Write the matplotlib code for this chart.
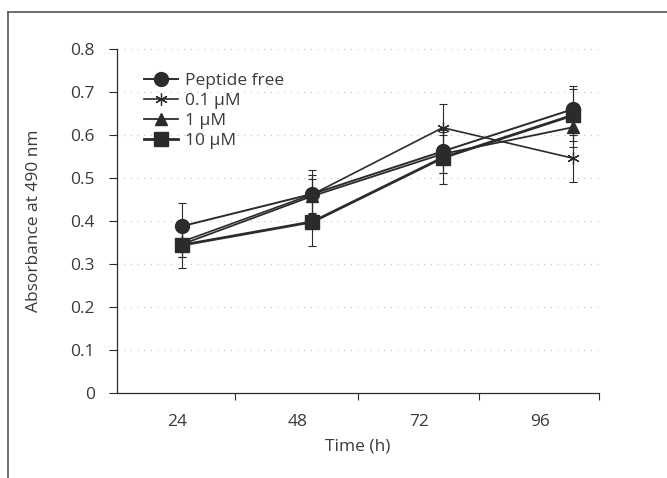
import matplotlib
matplotlib.use('Agg')
import matplotlib.pyplot as plt
from matplotlib.lines import Line2D

plt.rcParams['font.family'] = ['Open Sans', 'DejaVu Sans']

# data
time_h = [24, 48, 72, 96]
series_names = ['Peptide free', '0.1 \u00b5M', '1 \u00b5M', '10 \u00b5M']
peptide_free = [0.388, 0.463, 0.562, 0.660]
conc_01 = [0.352, 0.462, 0.617, 0.546]
conc_1 = [0.346, 0.458, 0.556, 0.618]
conc_10 = [0.344, 0.398, 0.547, 0.646]
err_free = [0.054, 0.056, 0.050, 0.054]
err_01 = [0.035, 0.045, 0.055, 0.055]
err_1 = [0.030, 0.040, 0.045, 0.045]
err_10 = [0.054, 0.056, 0.061, 0.060]

y_ticks = [0, 0.1, 0.2, 0.3, 0.4, 0.5, 0.6, 0.7, 0.8]
x_labels = ['24', '48', '72', '96']

ink = '#2b2b2b'
txt = '#3a3a3a'
fs = 12.5
px = 1 / 100
fig = plt.figure(figsize=(667 * px, 478 * px), dpi=100)
ax = fig.add_axes([117 / 667, 1 - 393 / 478, (599 - 117) / 667, (393 - 49) / 478])

styles = [
    dict(marker='o', ms=10, lw=1.4),
    dict(marker=(6, 2, 0), ms=9, lw=1.2, mew=0.9),
    dict(marker='^', ms=9, lw=1.3),
    dict(marker='s', ms=10, lw=2.0),
]
values = [peptide_free, conc_01, conc_1, conc_10]
errors = [err_free, err_01, err_1, err_10]

# faint dotted grid
for yv in y_ticks[1:]:
    ax.axhline(yv, color='#c4c4c4', lw=0.8, ls=(0, (1, 5)), zorder=0)

handles = []
for name, vals, errs, st in zip(series_names, values, errors, styles):
    ax.errorbar(time_h, vals, yerr=errs, fmt='none', ecolor=ink, elinewidth=0.8,
                capsize=3, capthick=0.8, zorder=2)
    ax.plot(time_h, vals, color=ink, marker=st['marker'], ms=st['ms'], lw=st['lw'],
            mew=st.get('mew', 1.0), mfc=ink, mec=ink, zorder=3)
    handles.append(Line2D([], [], color=ink, marker=st['marker'], ms=st['ms'],
                          lw=st['lw'], mew=st.get('mew', 1.0), mfc=ink, mec=ink, label=name))

ax.set_xlim(12.0, 100.8)
ax.set_ylim(0, 0.8)
ax.set_yticks(y_ticks)
ax.set_yticklabels(['0', '0.1', '0.2', '0.3', '0.4', '0.5', '0.6', '0.7', '0.8'])

# tick marks between categories, labels offset as in the original
ax.set_xticks([33.8, 56.4, 78.7, 100.8])
ax.set_xticklabels(['', '', '', ''])
ax.set_xticks([23.1, 45.2, 67.6, 89.9], minor=True)
ax.set_xticklabels(x_labels, minor=True)
ax.tick_params(axis='x', which='minor', length=0, pad=15, labelsize=fs, colors=txt)
ax.tick_params(axis='x', which='major', direction='out', length=5, width=0.8, color=ink)
ax.tick_params(axis='y', direction='out', length=6, width=0.8, color=ink,
               labelsize=fs, labelcolor=txt, pad=10)

for s in ['top', 'right']:
    ax.spines[s].set_visible(False)
for s in ['left', 'bottom']:
    ax.spines[s].set_color(ink)
    ax.spines[s].set_linewidth(0.9)

ax.set_xlabel('Time (h)', fontsize=fs, color=txt, labelpad=6)
ax.set_ylabel('Absorbance at 490 nm', fontsize=fs, color=txt, labelpad=20)

ax.legend(handles=handles, loc='upper left', bbox_to_anchor=(0.03, 0.965), frameon=False,
          fontsize=fs, handlelength=2.0, labelspacing=0.22, handletextpad=0.4,
          borderpad=0.2, labelcolor=txt)

# outer frame of the scanned figure
fig.add_artist(Line2D([8 / 667, 8 / 667], [0, 1 - 12 / 478], color='#555555', lw=1.2))
fig.add_artist(Line2D([8 / 667, 1], [1 - 12 / 478, 1 - 12 / 478], color='#555555', lw=1.2))

fig.savefig('out.png', dpi=100)
